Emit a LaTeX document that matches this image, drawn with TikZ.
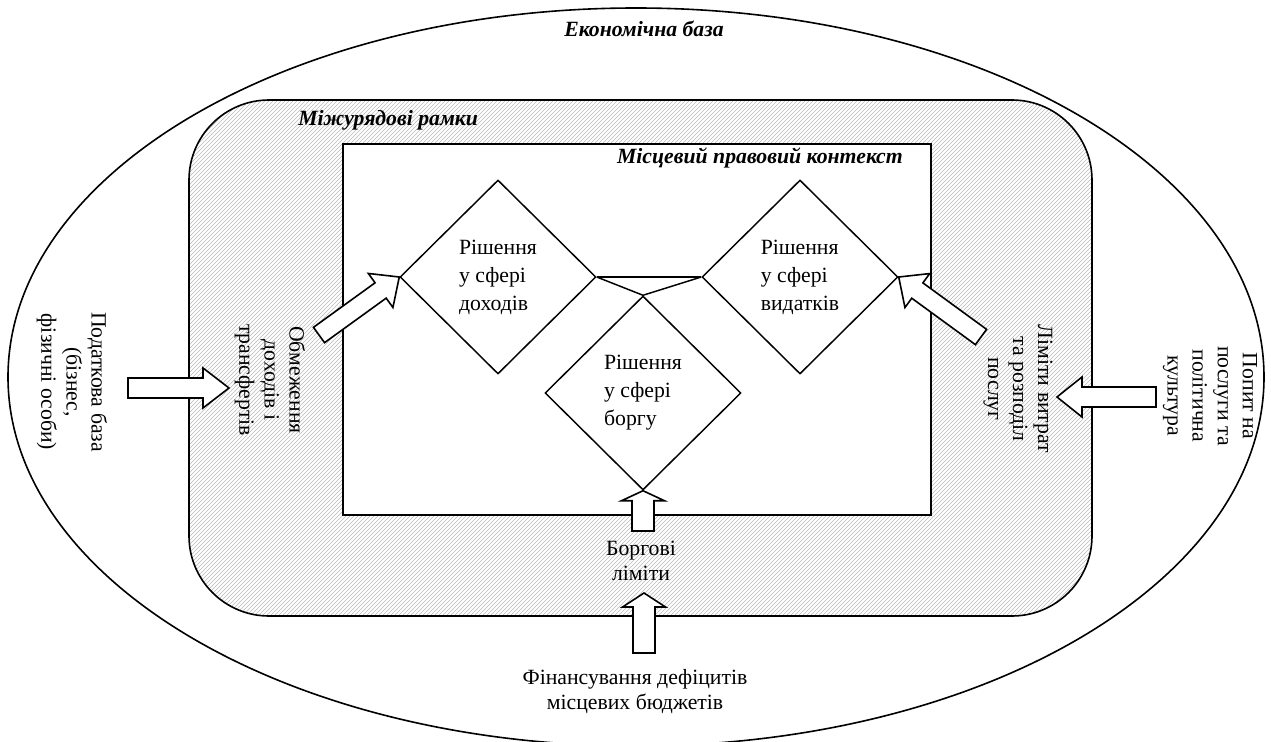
\documentclass[tikz,border=0pt]{standalone}
\usepackage{fontspec}
\setmainfont{Liberation Serif}
\usetikzlibrary{shapes.geometric,patterns,calc}
\tikzset{
 txt/.style={inner sep=0pt, font=\fontsize{16.3}{18.8}\selectfont, align=center},
 ttl/.style={inner sep=0pt, font=\fontsize{16.3}{18.8}\selectfont\bfseries\itshape},
 dmd/.style={diamond, draw, line width=1.1pt, fill=white, minimum width=147pt, minimum height=145.5pt, inner sep=0pt, align=left, font=\fontsize{16.3}{21}\selectfont},
 blockarrow/.style={draw, line width=1.2pt, fill=white, line join=miter},
 frame/.style={draw, line width=1.2pt},
 link/.style={draw, line width=1.1pt},
}
\newcommand\blockarr[5]{%
 \coordinate (ba-h) at ($(#2)!#5!(#1)$);
 \draw[blockarrow] ($(#1)!#3!90:(#2)$) -- ($(ba-h)!#3!90:(#2)$) -- ($(ba-h)!#4!90:(#2)$) -- (#2)
   -- ($(ba-h)!#4!-90:(#2)$) -- ($(ba-h)!#3!-90:(#2)$) -- ($(#1)!#3!-90:(#2)$) -- cycle;
}
\begin{document}
\begin{tikzpicture}[x=0.75pt,y=-0.75pt]
\useasboundingbox (0,0) rectangle (1271,742);
% outer ellipse
\draw[frame] (636,377) ellipse [x radius=471pt, y radius=276.75pt];
% hatched frame
\draw[frame, pattern=north east lines, pattern color=gray!55, rounded corners=60pt] (189,100) rectangle (1092,616);
% inner rectangle
\draw[frame, fill=white] (343,144) rectangle (931,515);
% titles
\node[ttl, anchor=base] (tEcon) at (644,37) {Економічна база};
\node[ttl, anchor=base west] (tInter) at (298,125) {Міжурядові рамки};
\node[ttl, anchor=base east] (tLocal) at (903,163) {Місцевий правовий контекст};
% diamonds
\node[dmd] (d1) at (498,277) {Рішення\\у сфері\\доходів};
\node[dmd] (d2) at (800,277) {Рішення\\у сфері\\видатків};
\node[dmd] (d3) at (643,393) {Рішення\\у сфері\\боргу};
\draw[link] (d1.east) -- (d2.west);
\draw[link] (d1.east) -- (d3.north) -- (d2.west);
% side texts
\node[txt, rotate=-90] (tax) at (72,382) {Податкова база\\(бізнес,\\фізичні особи)};
\node[txt, rotate=-90] (revlim) at (270,380) {Обмеження\\доходів і\\трансфертів};
\node[txt, rotate=-90] (explim) at (1018,389) {Ліміти витрат\\та розподіл\\послуг};
\node[txt, rotate=-90] (demand) at (1210,396) {Попит на\\послуги та\\політична\\культура};
\node[txt] (debtlim) at (641,561) {Боргові\\ліміти};
\node[txt] (fin) at (635,692) {Фінансування дефіцитів\\місцевих бюджетів};
% arrow anchor coordinates
\coordinate (aL1) at (128,388); \coordinate (aL2) at (229,388);
\coordinate (aR1) at (1156,397); \coordinate (aR2) at (1057,397);
\coordinate (aD1) at (319,335);
\coordinate (aE1) at (981,337);
\coordinate (aB1) at (644,653); \coordinate (aB2) at (644,593);
\coordinate (aU1) at (643,531);
% block arrows
\blockarr{aL1}{aL2}{7.5pt}{15pt}{19.5pt}
\blockarr{aR1}{aR2}{7.5pt}{15pt}{18.75pt}
\blockarr{aD1}{d1.west}{7.1pt}{15.75pt}{17.25pt}
\blockarr{aE1}{d2.east}{7.1pt}{15.75pt}{17.25pt}
\blockarr{aB1}{aB2}{8.25pt}{16.1pt}{10.5pt}
\blockarr{aU1}{d3.south}{8.25pt}{16.1pt}{7.5pt}
\end{tikzpicture}
\end{document}
